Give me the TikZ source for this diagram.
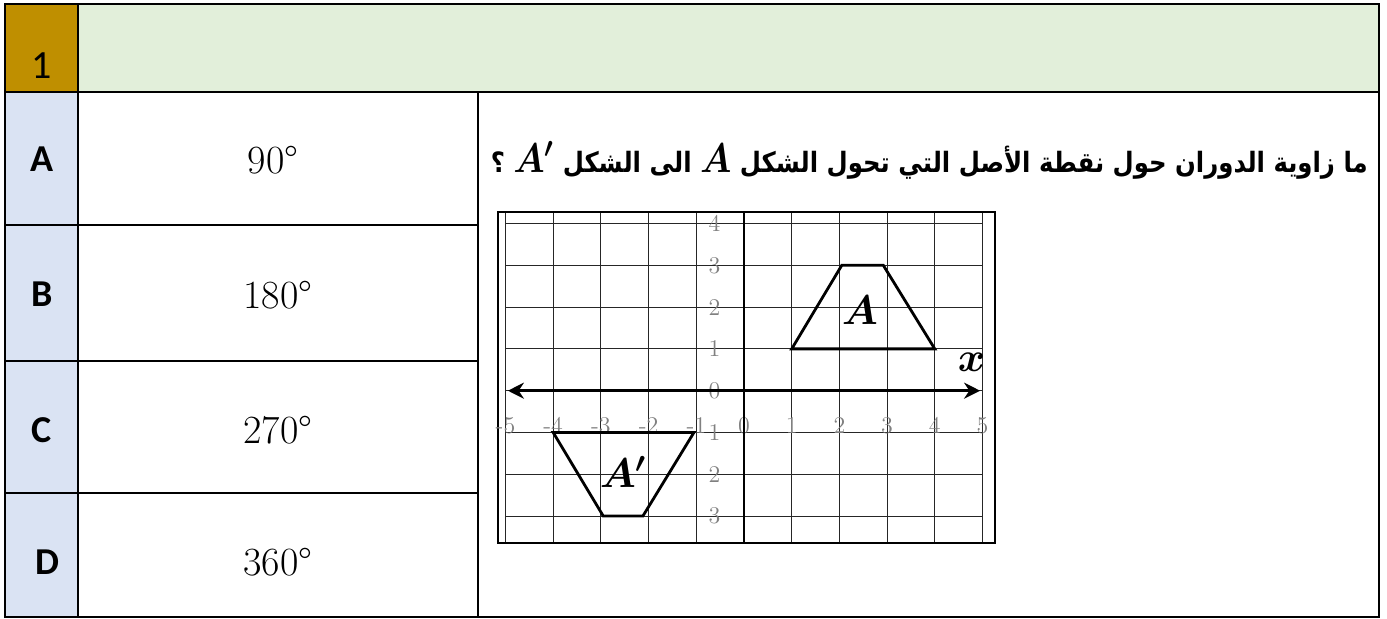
\documentclass[tikz,border=0pt]{standalone}
\usepackage{amsmath,amssymb}
\usepackage{fontspec}
\usepackage{tikz}
\usetikzlibrary{positioning,arrows.meta}
\TeXXeTstate=1
\newfontfamily\arabicfont[Script=Arabic]{DejaVu Sans}
\newfontfamily\calibrifont{Carlito}
\definecolor{headgold}{HTML}{BF8F00}
\definecolor{headgreen}{HTML}{E2EFDA}
\definecolor{optblue}{HTML}{DAE3F3}
\newsavebox\qsymA
\newsavebox\qsymAp
\tikzset{
tabline/.style={draw=black,line width=1pt},
optlbl/.style={font=\calibrifont\bfseries\fontsize{19}{22}\selectfont,inner sep=0pt,anchor=base},
numlbl/.style={font=\calibrifont\fontsize{20}{24}\selectfont,inner sep=0pt,anchor=base},
anslbl/.style={font=\fontsize{20}{24}\selectfont,inner sep=0pt,anchor=base},
question/.style={font=\arabicfont\bfseries\fontsize{14}{16}\selectfont,inner sep=0pt,anchor=east,xscale=0.87},
gridln/.style={draw=black!85,line width=0.55pt},
frameln/.style={draw=black,line width=0.6pt},
axisln/.style={draw=black,line width=1.3pt},
trapln/.style={draw=black,line width=1.4pt,line join=miter},
ticklbl/.style={text=black!50,font=\fontsize{12}{14}\selectfont,inner sep=0pt},
shapelbl/.style={font=\fontsize{20}{24}\selectfont,inner sep=0pt}
}

\begin{document}
\global\setbox\qsymA\hbox{\fontsize{22}{26}\selectfont$\boldsymbol{A}$}
\global\setbox\qsymAp\hbox{\fontsize{22}{26}\selectfont$\boldsymbol{A'}$}
\begin{tikzpicture}[x=0.5pt,y=-0.5pt]
\useasboundingbox (0,0) rectangle (1387,619);
% table cells
\fill[headgold] (5,4) rectangle (78,92);
\fill[headgreen] (78,4) rectangle (1379,92);
\fill[optblue] (5,92) rectangle (78,617);
\draw[tabline] (5,4) rectangle (1379,617);
\draw[tabline] (5,92) -- (1379,92);
\draw[tabline] (78,4) -- (78,617);
\draw[tabline] (478,92) -- (478,617);
\foreach \y in {225,361,493} \draw[tabline] (5,\y) -- (478,\y);
\node[numlbl] (num) at (42,79) {1};
% options
\node[optlbl] (optA) at (42,172) {A};
\node[optlbl] (optB) at (42,307) {B};
\node[optlbl] (optC) at (42,443) {C};
\node[optlbl] (optD) at (47,575) {D};
\node[anslbl] (valA) at (273,174) {90\textdegree};
\node[anslbl] (valB) at (278,309) {180\textdegree};
\node[anslbl] (valC) at (278,444) {270\textdegree};
\node[anslbl] (valD) at (278,576) {360\textdegree};
\node[question] (quest) at (1368,160) {\beginR ما زاوية الدوران حول نقطة الأصل التي تحول الشكل \copy\qsymA{} الى الشكل \copy\qsymAp{} ؟\endR};
% coordinate grid
\begin{scope}[shift={(744,390.7)},x=23.85pt,y=20.9pt]
\foreach \i in {-5,...,5} \draw[gridln] (\i,-3.644) -- (\i,4.275);
\foreach \j in {-3,...,4} \draw[gridln] (-5,\j) -- (5,\j);
\draw[frameln] (-5.157,-3.644) rectangle (5.262,4.275);
\foreach \i in {-5,...,5} \node[ticklbl] (xt\i) at (\i,-0.83) {\i};
\foreach \j/\t in {4/4,3/3,2/2,1/1,0/0,-1/1,-2/2,-3/3} \node[ticklbl] (yt\j) at (-0.62,\j) {\t};
\draw[axisln] (0,-3.644) -- (0,4.275);
\coordinate (xl) at (-4.95,0);
\coordinate (xr) at (4.95,0);
\draw[axisln,{Stealth[length=8pt,width=8pt]}-{Stealth[length=8pt,width=8pt]}] (xl) -- (xr);
\node[shapelbl] (xlbl) at (4.77,0.69) {$\boldsymbol{x}$};
\draw[trapln] (1,1) -- (2.05,3) -- (2.92,3) -- (4,1) -- cycle;
\draw[trapln] (-4,-1) -- (-1.05,-1) -- (-2.12,-3) -- (-2.95,-3) -- cycle;
\node[shapelbl] (shA) at (2.43,1.93) {$\boldsymbol{A}$};
\node[shapelbl] (shAp) at (-2.53,-1.94) {$\boldsymbol{A'}$};
\end{scope}
\end{tikzpicture}
\end{document}
